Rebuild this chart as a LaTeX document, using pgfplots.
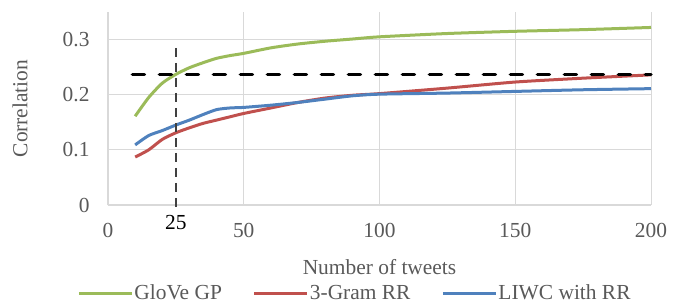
\documentclass[border=0pt]{standalone}
\usepackage{fontspec}
\setmainfont{Liberation Serif}
\usepackage{pgfplots}
\pgfplotsset{compat=1.18}
\definecolor{cgreen}{HTML}{9BBB59}
\definecolor{cred}{HTML}{C0504D}
\definecolor{cblue}{HTML}{4F81BD}
\definecolor{gridc}{HTML}{D9D9D9}
\definecolor{textc}{HTML}{595959}
\begin{document}
\begin{tikzpicture}
\begin{axis}[
  at={(0,0)}, anchor=south west,
  scale only axis, width=543bp, height=193bp,
  xmin=0, xmax=200, ymin=0, ymax=0.35,
  xtick={0,50,100,150,200}, xticklabels={0,50,100,150,200},
  ytick={0,0.1,0.2,0.3}, yticklabels={0,0.1,0.2,0.3},
  grid=major, major grid style={draw=gridc, line width=1bp},
  axis x line*=bottom, axis y line*=left,
  axis line style={draw=gridc, line width=1.2bp, -},
  major tick length=0pt,
  tick label style={font=\fontsize{21.5}{25}\selectfont, text=textc},
  xticklabel style={anchor=center, yshift=-25bp},
  yticklabel style={anchor=east, xshift=-15bp},
  extra x ticks={25}, extra x tick labels={25},
  extra x tick style={grid=none, xticklabel style={text=black, yshift=7bp}},
  xlabel={Number of tweets}, ylabel={Correlation},
  every axis x label/.style={at={(axis description cs:0.5,0)}, yshift=-62bp, anchor=center,
    font=\fontsize{21.5}{25}\selectfont, text=textc},
  every axis y label/.style={at={(axis description cs:0,0.5)}, xshift=-88bp, rotate=90, anchor=center,
    font=\fontsize{21.5}{25}\selectfont, text=textc},
  legend columns=3,
  legend style={at={(0.454,-0.456)}, anchor=center, draw=none, fill=none,
    font=\fontsize{21.5}{25}\selectfont, text=textc,
    /tikz/every even column/.append style={column sep=30bp},
    nodes={inner sep=1bp}},
  legend image code/.code={\draw[#1] (0bp,0bp) -- (53bp,0bp);},
  clip=false,
]
\addplot[cgreen, line width=3bp, smooth, tension=0.4] coordinates {
(10,0.161) (15,0.195) (20,0.221) (25,0.237) (30,0.249) (35,0.258) (40,0.266) (45,0.271) (50,0.275) (60,0.285) (70,0.292) (80,0.297) (90,0.301) (100,0.305) (125,0.311) (150,0.315) (175,0.318) (200,0.322)};
\addlegendentry{GloVe GP}
\addplot[cred, line width=3bp, smooth, tension=0.4] coordinates {
(10,0.087) (15,0.100) (20,0.119) (25,0.131) (30,0.140) (35,0.148) (40,0.154) (45,0.160) (50,0.166) (60,0.176) (70,0.186) (80,0.194) (90,0.199) (100,0.202) (125,0.212) (150,0.223) (175,0.230) (200,0.236)};
\addlegendentry{3-Gram RR}
\addplot[cblue, line width=3bp, smooth, tension=0.4] coordinates {
(10,0.109) (15,0.126) (20,0.135) (25,0.145) (30,0.154) (35,0.164) (40,0.173) (45,0.176) (50,0.177) (60,0.181) (70,0.186) (80,0.192) (90,0.198) (100,0.201) (125,0.203) (150,0.206) (175,0.209) (200,0.211)};
\addlegendentry{LIWC with RR}
\addplot[black, line width=3.5bp, line cap=round, dash pattern=on 12bp off 15bp, forget plot] coordinates {(9,0.2365) (200,0.2365)};
\addplot[black!75, line width=1.8bp, dash pattern=on 9bp off 6bp, forget plot] coordinates {(25,0.285) (25,-0.013)};
\end{axis}
\pgfresetboundingbox
\path[use as bounding box] (-108bp,-100bp) rectangle (575bp,205bp);
\end{tikzpicture}
\end{document}
